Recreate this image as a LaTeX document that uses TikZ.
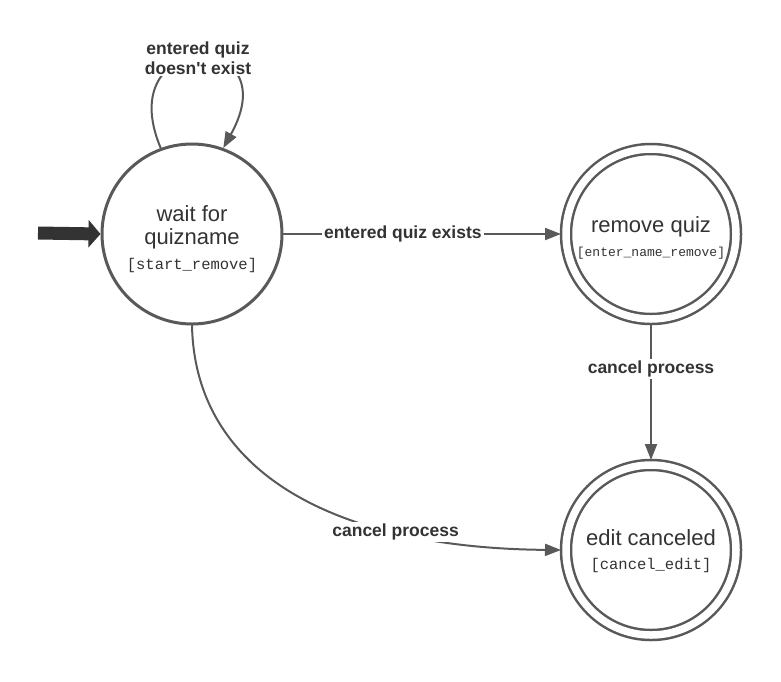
\documentclass[tikz,border=0pt]{standalone}
\usepackage{fontspec}
\setmainfont{Liberation Sans}
\setmonofont{Liberation Mono}
\usepackage{xcolor}
\usepackage{tikz}
\usetikzlibrary{arrows.meta}
\definecolor{StateLine}{HTML}{595959}
\definecolor{StateText}{HTML}{333333}
\newcommand{\StateTag}[2][15.5]{{\ttfamily\fontsize{#1}{#1}\selectfont[#2]}}

\begin{document}
\begin{tikzpicture}[x=1pt, y=-1pt, line cap=round,
	state/.style={circle, draw=StateLine, line width=3pt, minimum size=180pt, inner sep=0pt,
		align=center, text=StateText, font=\fontsize{22}{23.5}\selectfont},
	accept/.style={state, double, double distance=7.5pt, line width=2.5pt, minimum size=170pt, outer sep=5pt},
	edge/.style={draw=StateLine, line width=2pt, -{Triangle[length=16pt, width=12pt]}},
	edgelabel/.style={fill=white, inner sep=2pt, text=StateText, align=center,
		font=\bfseries\fontsize{17.5}{20}\selectfont}]

	\useasboundingbox (0,0) rectangle (781,681);

	\node[state] (wait) at (192,234) {\rule{0pt}{26pt}wait for\\quizname\\[1pt]\StateTag{start\_remove}};
	\node[accept] (remove) at (651,234) {\rule{0pt}{24pt}remove quiz\\[1pt]\StateTag[13]{enter\_name\_remove}};
	\node[accept] (canceled) at (651,550) {\rule{0pt}{18pt}edit canceled\\[1pt]\StateTag{cancel\_edit}};

	\coordinate (entry) at (38,233);

	% initial state
	\draw[StateText, line width=13pt, line cap=butt, -{Triangle[length=12pt, width=27pt]}] (entry) -- (wait.west);

	\draw[edge] (wait.110) .. controls (110,28) and (290,28) .. (wait.70)
		node[edgelabel, pos=0.5] {entered quiz\\doesn\textquotesingle t exist};
	\draw[edge] (wait) -- (remove) node[edgelabel, pos=0.43] {entered quiz exists};
	\draw[edge] (remove) -- (canceled) node[edgelabel, pos=0.33] {cancel process};
	\draw[edge] (wait.south) .. controls (195,470) and (330,548) .. (canceled.west)
		node[edgelabel, pos=0.73] {cancel process};

\end{tikzpicture}
\end{document}
